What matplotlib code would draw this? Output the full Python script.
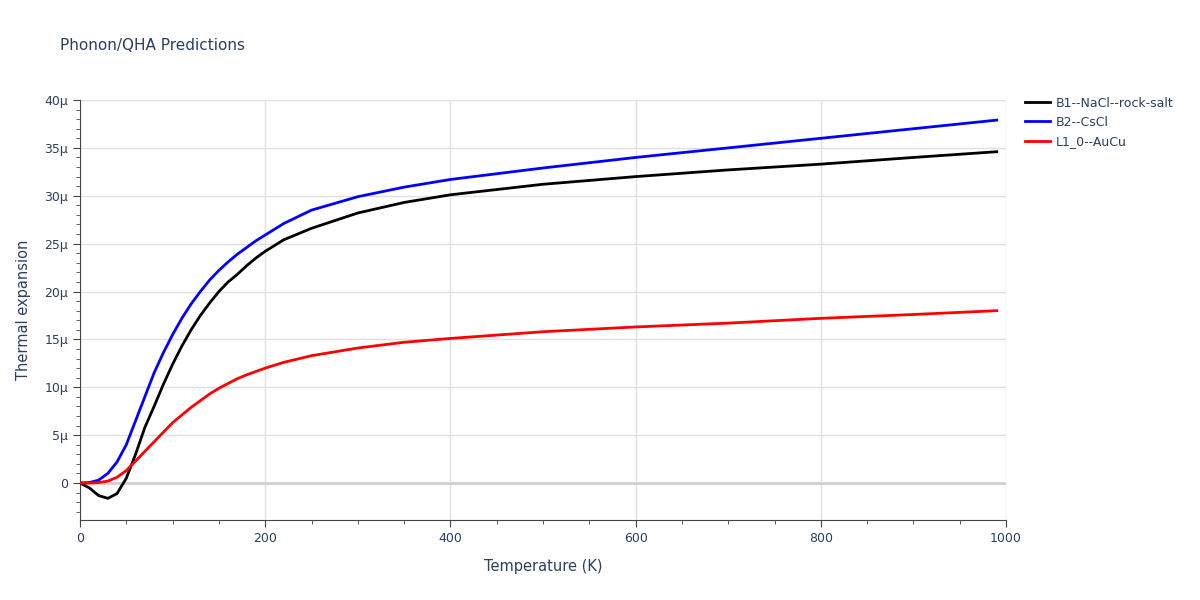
import matplotlib
matplotlib.use("Agg")
import matplotlib.pyplot as plt
from matplotlib.ticker import FuncFormatter, MultipleLocator

T = [0,10,20,30,40,50,60,70,80,90,100,110,120,130,140,150,160,170,180,190,200,220,250,300,350,400,500,600,700,800,900,990]
b1 = [0,-0.5,-1.3,-1.6,-1.1,0.5,3,5.8,8,10.3,12.4,14.3,16,17.5,18.8,20,21,21.8,22.7,23.5,24.2,25.4,26.6,28.2,29.3,30.1,31.2,32,32.7,33.3,34,34.6]
b2 = [0,0.05,0.3,1,2.2,4,6.5,9,11.5,13.6,15.5,17.2,18.7,20,21.2,22.2,23.1,23.9,24.6,25.3,25.9,27.1,28.5,29.9,30.9,31.7,32.9,34,35,36,37,37.9]
l1 = [0,0,0.05,0.2,0.6,1.3,2.3,3.3,4.3,5.3,6.3,7.1,7.9,8.6,9.3,9.9,10.4,10.9,11.3,11.65,12,12.6,13.3,14.1,14.7,15.1,15.8,16.3,16.7,17.2,17.6,18]
names = ["B1--NaCl--rock-salt", "B2--CsCl", "L1_0--AuCu"]
colors = ["black", "blue", "red"]

fig = plt.figure(figsize=(12, 6), dpi=100)
ax = fig.add_axes([80/1200, 80/600, 926/1200, 420/600])
ax.axhline(0, color="#d0d0d0", lw=2, zorder=1)
for y, n, c in zip([b1, b2, l1], names, colors):
    ax.plot(T, [v*1e-6 for v in y], color=c, lw=2, label=n, zorder=3)
ax.set_xlim(0, 1000)
ax.set_ylim(-3.86e-6, 40e-6)
ax.xaxis.set_major_locator(MultipleLocator(200))
ax.xaxis.set_minor_locator(MultipleLocator(50))
ax.yaxis.set_major_locator(MultipleLocator(5e-6))
ax.yaxis.set_minor_locator(MultipleLocator(1e-6))
ax.yaxis.set_major_formatter(FuncFormatter(lambda v, p: "0" if abs(v) < 1e-9 else f"{v*1e6:.0f}μ"))
ax.grid(True, which="major", color="#e0e0e0", lw=1)
ax.set_axisbelow(True)
for s in ["top", "right"]:
    ax.spines[s].set_visible(False)
for s in ["left", "bottom"]:
    ax.spines[s].set_color("#444444")
ax.tick_params(colors="#444444", labelcolor="#2a3f5f", labelsize=9, length=5)
ax.tick_params(which="minor", length=3, colors="#444444")
ax.set_xlabel("Temperature (K)", color="#2a3f5f", fontsize=10.5, labelpad=10)
ax.set_ylabel("Thermal expansion", color="#2a3f5f", fontsize=10.5, labelpad=10)
fig.text(60/1200, 1-45/600, "Phonon/QHA Predictions", color="#2a3f5f", fontsize=11, va="center")
ax.legend(loc="upper left", bbox_to_anchor=(1.015, 1.02), frameon=False, fontsize=9, labelcolor="#2a3f5f",
          handlelength=2, handletextpad=0.5, borderaxespad=0)
fig.savefig("out.png", dpi=100)
